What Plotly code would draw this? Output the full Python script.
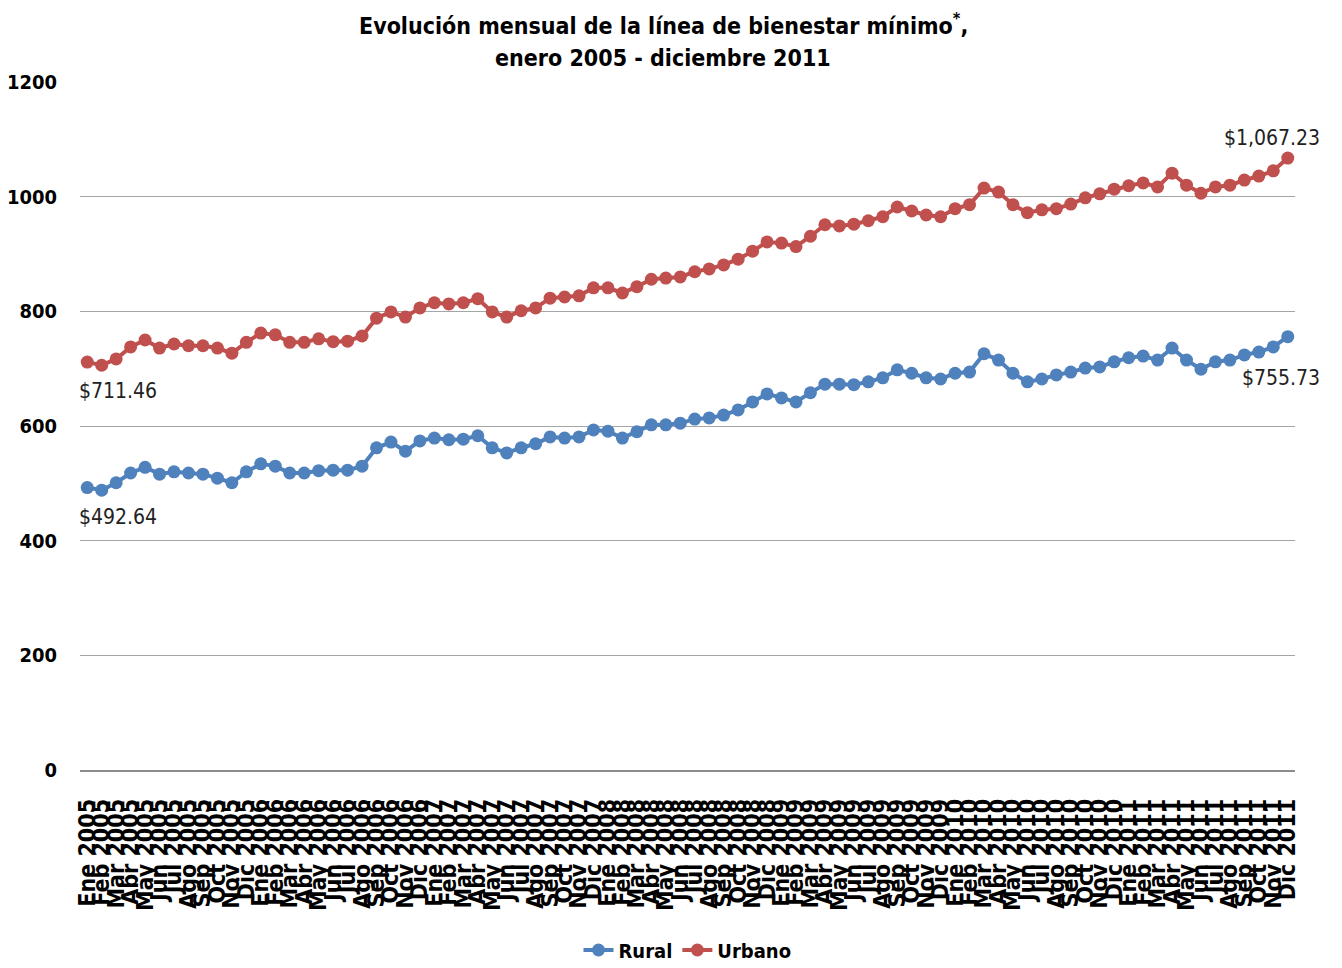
import plotly.graph_objects as go

meses = ["Ene", "Feb", "Mar", "Abr", "May", "Jun", "Jul", "Ago", "Sep", "Oct", "Nov", "Dic"]
anios = [2005, 2006, 2007, 2008, 2009, 2010, 2011]
categorias = [f"{m} {a}" for a in anios for m in meses]

rural = [
    492.64, 488, 501, 518, 528, 516, 520, 518, 516, 509, 501, 520,
    534, 530, 518, 518, 522, 523, 523, 530, 562, 572, 556, 574,
    579, 576, 577, 583, 562, 553, 562, 569, 581, 579, 581, 593,
    591, 579, 590, 602, 602, 605, 612, 614, 619, 628, 642, 656,
    649, 642, 658, 673, 673, 672, 677, 684, 698, 692, 684, 682,
    692, 694, 726, 715, 692, 677, 682, 689, 694, 701, 703, 712,
    719, 722, 715, 736, 715, 699, 712, 715, 724, 729, 738, 755.73,
]

urbano = [
    711.46, 706, 717, 738, 750, 736, 743, 740, 740, 736, 727, 746,
    762, 759, 746, 746, 752, 747, 748, 757, 788, 799, 790, 806,
    815, 813, 815, 822, 799, 790, 801, 806, 823, 825, 827, 841,
    841, 832, 843, 856, 858, 860, 869, 874, 881, 891, 905, 921,
    919, 913, 931, 951, 949, 952, 958, 965, 982, 975, 968, 965,
    979, 986, 1015, 1008, 986, 972, 977, 979, 987, 998, 1005, 1013,
    1019, 1024, 1017, 1041, 1020, 1006, 1017, 1020, 1029, 1036, 1045, 1067.23,
]

etiquetas = [
    (0, "$711.46", "urbano"),
    (0, "$492.64", "rural"),
    (83, "$1,067.23", "urbano"),
    (83, "$755.73", "rural"),
]

titulo = ["Evolución mensual de la línea de bienestar mínimo<sup>*</sup>,",
          "enero 2005 - diciembre 2011"]

y_ticks = [0, 200, 400, 600, 800, 1000, 1200]

FONT = "Liberation Sans Narrow, Arial Narrow, DejaVu Sans Condensed, sans-serif"
AZUL = "#4F81BD"
ROJO = "#C0504D"

x_idx = list(range(len(categorias)))

fig = go.Figure()
fig.add_trace(go.Scatter(
    x=x_idx, y=rural, name="Rural", mode="lines+markers",
    line=dict(color=AZUL, width=4), marker=dict(color=AZUL, size=13),
))
fig.add_trace(go.Scatter(
    x=x_idx, y=urbano, name="Urbano", mode="lines+markers",
    line=dict(color=ROJO, width=4), marker=dict(color=ROJO, size=13),
))

series = {"rural": rural, "urbano": urbano}
for i, txt, s in etiquetas:
    val = series[s][i]
    if i == 0:
        fig.add_annotation(x=i, y=val, text=txt, showarrow=False, xanchor="left",
                           xshift=-10, yshift=-29,
                           font=dict(family=FONT, size=21, color="#222"))
    else:
        ys = 20 if s == "urbano" else -41
        fig.add_annotation(x=i, y=val, text=txt, showarrow=False, xanchor="right",
                           xshift=34, yshift=ys,
                           font=dict(family=FONT, size=21, color="#222"))

# title lines as paper annotations
for line, ypix in zip(titulo, [24, 58]):
    fig.add_annotation(
        xref="paper", yref="paper", x=(663 - 80) / 1215, y=(770 - ypix) / 688,
        text=line, showarrow=False, xanchor="center", yanchor="middle",
        font=dict(family=FONT, size=23, color="black", weight="bold"),
    )

fig.update_layout(
    width=1334, height=960,
    paper_bgcolor="white", plot_bgcolor="white",
    margin=dict(l=72, r=47, t=74, b=198, autoexpand=False),
    showlegend=True,
    legend=dict(
        orientation="h", x=0.5, xanchor="center",
        yref="container", y=1 - 942 / 960, yanchor="middle",
        font=dict(family=FONT, size=20, color="black", weight="bold"),
    ),
    xaxis=dict(
        tickmode="array", tickvals=x_idx, ticktext=categorias,
        tickangle=-90, range=[-0.5, len(categorias) - 0.5],
        showgrid=False, showline=True, linecolor="#8c8c8c", linewidth=1.5,
        ticks="", zeroline=False, automargin=False, ticklabelstandoff=18,
        tickfont=dict(family=FONT, size=23, color="black", weight="bold"),
    ),
    yaxis=dict(
        range=[0, 1200], tickmode="array", tickvals=y_ticks,
        showgrid=True, gridcolor="#a6a6a6", gridwidth=1,
        zeroline=False, showline=False, ticks="", ticklabelstandoff=22,
        automargin=False,
        tickfont=dict(family=FONT, size=20, color="black", weight="bold"),
    ),
)

fig.write_html("out.html")
